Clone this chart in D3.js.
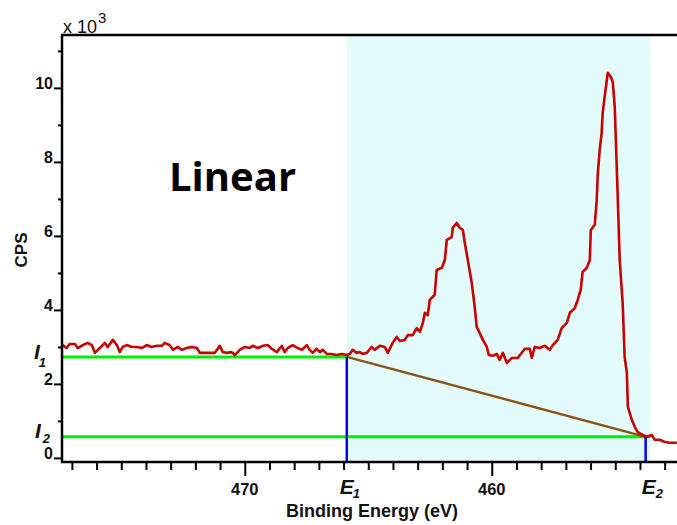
<!DOCTYPE html>
<html>
<head>
<meta charset="utf-8">
<script src="https://cdn.jsdelivr.net/npm/d3@7"></script>
<style>
  html, body { margin: 0; padding: 0; background: #fff; }
  svg { display: block; }
</style>
</head>
<body>
<svg id="chart" width="677" height="525"></svg>
<script>
// ---- Data ----
const energy = [477.37,477.21,477.09,476.88,476.76,476.56,476.36,476.19,476.07,475.87,475.67,475.55,475.34,475.18,475.06,474.94,474.78,474.57,474.37,474.17,473.97,473.77,473.56,473.36,473.24,473.04,472.91,472.71,472.55,472.35,472.15,471.94,471.82,471.62,471.42,471.21,471.01,470.89,470.73,470.53,470.40,470.20,470.00,469.80,469.68,469.47,469.27,469.07,468.91,468.70,468.50,468.38,468.26,468.06,467.85,467.69,467.49,467.37,467.25,467.09,466.96,466.84,466.68,466.48,466.28,466.07,465.87,465.75,465.63,465.47,465.34,465.22,465.06,464.86,464.74,464.53,464.33,464.21,464.01,463.85,463.72,463.52,463.40,463.20,463.04,462.91,462.79,462.71,462.59,462.51,462.31,462.23,462.02,461.90,461.82,461.62,461.58,461.42,461.30,461.17,461.09,460.97,460.81,460.69,460.61,460.49,460.36,460.20,460.12,459.96,459.80,459.68,459.55,459.39,459.27,459.19,458.95,458.66,458.46,458.38,458.26,458.06,457.85,457.65,457.53,457.33,457.17,456.96,456.84,456.64,456.52,456.40,456.32,456.15,456.03,455.99,455.83,455.75,455.71,455.63,455.55,455.51,455.43,455.34,455.30,455.18,455.10,455.02,454.94,454.90,454.82,454.70,454.62,454.53,454.49,454.33,454.21,454.09,453.89,453.72,453.52,453.40,453.20,452.99,452.79,452.51];
const cps = [3.05,2.97,3.08,3.08,2.97,3.05,3.11,3.05,2.84,2.97,3.11,3.00,3.19,3.05,2.86,3.00,3.05,3.00,3.00,2.97,3.05,3.00,3.03,3.03,3.11,3.05,2.92,3.00,2.92,2.97,3.00,2.97,2.84,2.84,2.84,2.84,3.03,2.86,2.84,2.86,2.78,2.92,3.00,2.97,3.03,2.97,3.03,3.05,2.95,2.86,3.03,2.86,2.97,3.05,2.97,2.92,3.05,2.92,2.84,2.95,2.86,2.92,2.81,2.81,2.78,2.81,2.78,2.81,2.92,2.84,2.86,2.81,2.84,3.00,2.92,3.03,3.00,2.84,3.11,3.27,3.16,3.19,3.32,3.32,3.51,3.41,3.65,3.92,3.86,4.27,4.41,5.08,5.14,5.35,5.89,5.97,6.22,6.35,6.22,6.16,5.81,5.35,4.73,4.08,3.54,3.38,3.19,3.00,2.78,2.76,2.81,2.65,2.84,2.57,2.65,2.70,2.70,2.95,2.95,2.70,3.00,2.97,3.03,2.92,3.05,3.19,3.51,3.65,3.92,4.05,4.27,4.54,5.03,5.14,5.35,6.16,6.30,6.97,7.65,8.32,8.78,9.32,9.76,10.22,10.41,10.30,10.16,9.49,7.86,7.05,5.35,4.19,2.73,2.30,1.38,1.03,0.84,0.70,0.62,0.57,0.62,0.49,0.49,0.43,0.41,0.41];

const xTickLabels = [470, 460];
const yTickLabels = [0, 2, 4, 6, 8, 10];
const E1 = 465.87, E2 = 453.77;     // integration limits (eV)
const I1 = 2.73,  I2 = 0.57;        // background intensities (x10^3 CPS)
const regionEnd = 453.57;           // right edge of shaded region

// ---- Layout ----
const svg = d3.select("#chart");
const pL = 62, pR = 677, pT = 35, pB = 462;
const x = d3.scaleLinear().domain([477.4, 452.5]).range([pL, pR]);
const y = d3.scaleLinear().domain([-0.11, 11.43]).range([pB, pT]);

const tickFont = "'Liberation Sans', Arial, sans-serif";
const ink = "#111";

svg.append("rect").attr("width", 677).attr("height", 525).attr("fill", "#fff");

// shaded region
svg.append("rect")
  .attr("x", x(E1)).attr("y", pT)
  .attr("width", x(regionEnd) - x(E1))
  .attr("height", pB - pT)
  .attr("fill", "#e3fbfb");

svg.append("clipPath").attr("id", "clip")
  .append("rect").attr("x", pL).attr("y", pT).attr("width", pR - pL).attr("height", pB - pT);

const plot = svg.append("g").attr("clip-path", "url(#clip)");

// green intensity lines
plot.append("line")
  .attr("x1", x(477.4)).attr("x2", x(E1))
  .attr("y1", y(I1)).attr("y2", y(I1))
  .attr("stroke", "#00ee00").attr("stroke-width", 3);
plot.append("line")
  .attr("x1", x(477.4)).attr("x2", x(regionEnd))
  .attr("y1", y(I2)).attr("y2", y(I2))
  .attr("stroke", "#00ee00").attr("stroke-width", 3);

// linear background
plot.append("line")
  .attr("x1", x(E1)).attr("y1", y(I1))
  .attr("x2", x(E2)).attr("y2", y(I2))
  .attr("stroke", "#8a5214").attr("stroke-width", 2.5);

// spectrum
const data = energy.map((e, i) => ({ e, v: cps[i] }));
plot.append("path")
  .datum(data)
  .attr("fill", "none")
  .attr("stroke", "#c80000")
  .attr("stroke-width", 2.6)
  .attr("stroke-linejoin", "round")
  .attr("d", d3.line().x(d => x(d.e)).y(d => y(d.v)));

// blue limit lines
plot.append("line")
  .attr("x1", x(E1)).attr("x2", x(E1))
  .attr("y1", y(I1)).attr("y2", pB)
  .attr("stroke", "#0000ff").attr("stroke-width", 2.5);
plot.append("line")
  .attr("x1", x(E2)).attr("x2", x(E2))
  .attr("y1", y(I2)).attr("y2", pB)
  .attr("stroke", "#0000ff").attr("stroke-width", 2.5);

// ---- Axes ----
const xMinor = d3.range(477, 452, -1).filter(v => !xTickLabels.includes(v));
const gx = svg.append("g").attr("transform", `translate(0,${pB})`);
gx.call(d3.axisBottom(x).tickValues(xMinor).tickSize(8).tickFormat(""));
gx.append("g").call(d3.axisBottom(x).tickValues(xTickLabels).tickSize(14).tickFormat(""));
gx.selectAll(".domain").remove();
gx.selectAll("line").attr("stroke", "#000").attr("stroke-width", 2);

svg.append("g").selectAll("text").data(xTickLabels).join("text")
  .attr("x", d => x(d)).attr("y", 495)
  .attr("text-anchor", "middle")
  .attr("font-family", tickFont).attr("font-weight", "bold").attr("font-size", 16.5)
  .attr("fill", ink)
  .text(d => d);

const yMinor = [1, 3, 5, 7, 9, 11];
const gy = svg.append("g").attr("transform", `translate(${pL},0)`);
gy.call(d3.axisLeft(y).tickValues(yMinor).tickSize(4).tickFormat(""));
gy.append("g").call(d3.axisLeft(y).tickValues(yTickLabels).tickSize(8).tickFormat(""));
gy.selectAll(".domain").remove();
gy.selectAll("line").attr("stroke", "#000").attr("stroke-width", 2);

svg.append("g").selectAll("text").data(yTickLabels).join("text")
  .attr("x", 53).attr("y", d => y(d) + 1)
  .attr("text-anchor", "end")
  .attr("font-family", tickFont).attr("font-weight", "bold").attr("font-size", 16)
  .attr("fill", ink)
  .text(d => d);

// axis lines & top frame
svg.append("line").attr("x1", pL).attr("x2", pL).attr("y1", pT).attr("y2", pB + 1)
  .attr("stroke", "#000").attr("stroke-width", 2.5);
svg.append("line").attr("x1", pL - 1).attr("x2", pR).attr("y1", pB).attr("y2", pB)
  .attr("stroke", "#000").attr("stroke-width", 2.5);
svg.append("line").attr("x1", pL - 1).attr("x2", pR).attr("y1", pT).attr("y2", pT)
  .attr("stroke", "#000").attr("stroke-width", 2.5);

// multiplier label
const mult = svg.append("text").attr("x", 63).attr("y", 33)
  .attr("font-family", tickFont).attr("font-size", 18).attr("fill", ink);
mult.append("tspan").text("x 10");
mult.append("tspan").attr("dx", 1).attr("dy", -10).attr("font-size", 15).text("3");

// axis titles
svg.append("text")
  .attr("transform", "translate(27,250) rotate(-90)")
  .attr("text-anchor", "middle")
  .attr("font-family", tickFont).attr("font-weight", "bold").attr("font-size", 17)
  .attr("fill", ink).text("CPS");

svg.append("text")
  .attr("x", 372).attr("y", 517)
  .attr("text-anchor", "middle")
  .attr("font-family", tickFont).attr("font-weight", "bold").attr("font-size", 18)
  .attr("fill", ink).text("Binding Energy (eV)");

function symLabel(px, py, main, sub, sdx, sdy) {
  const t = svg.append("text").attr("x", px).attr("y", py)
    .attr("font-family", tickFont).attr("font-weight", "bold").attr("font-style", "italic")
    .attr("font-size", 21).attr("fill", ink);
  t.append("tspan").text(main);
  t.append("tspan").attr("dx", sdx).attr("dy", sdy).attr("font-size", 13).text(sub);
}
symLabel(x(E1) - 7, 494, "E", "1", -1, 4);
symLabel(x(E2) - 4, 494, "E", "2", 0, 4);
symLabel(34, 359, "I", "1", -1, 8);
symLabel(35, 438, "I", "2", 2, 5);

svg.append("text")
  .attr("x", 169).attr("y", 191)
  .attr("font-family", "'Open Sans', Lato, sans-serif").attr("font-weight", "bold")
  .attr("font-size", 40).attr("fill", "#000")
  .text("Linear");
</script>
</body>
</html>
